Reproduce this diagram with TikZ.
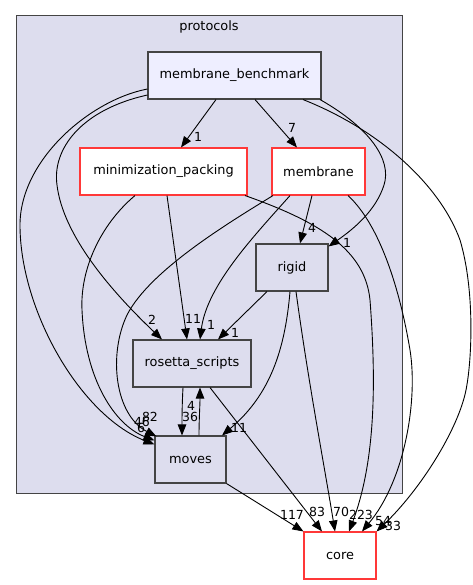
\documentclass[tikz,border=0pt]{standalone}
\usepackage{fontspec}
\setmainfont{DejaVu Sans}
\usetikzlibrary{arrows.meta}
\definecolor{clfill}{HTML}{DDDDEE}
\definecolor{mbfill}{HTML}{EEEEFF}
\definecolor{bord}{HTML}{444444}
\definecolor{redc}{HTML}{FF3838}
\begin{document}
\begin{tikzpicture}[x=1pt,y=-1pt,
  dirbox/.style={draw=bord, line width=1.1pt, fill=clfill, minimum height=47pt, inner sep=0pt, font=\fontsize{12.9}{15}\selectfont},
  redbox/.style={dirbox, draw=redc, fill=white},
  dep/.style={-{Triangle[length=11pt,width=8.5pt]}, line width=0.9pt, black},
  lbl/.style={font=\fontsize{12.5}{14}\selectfont, inner sep=0pt}]
\useasboundingbox (0,0) rectangle (472,585);
% cluster
\node[draw=bord, fill=clfill, line width=1pt, minimum width=386pt, minimum height=477pt, inner sep=0pt] (protocols) at (209,254.5) {};
\node[font=\fontsize{12.9}{15}\selectfont, inner sep=0pt] (protolbl) at (209,27) {protocols};
% nodes
\node[dirbox, fill=mbfill, minimum width=173pt] (mb) at (234.5,75.5) {membrane\_benchmark};
\node[redbox, minimum width=167pt] (mp) at (163.5,171.5) {minimization\_packing};
\node[redbox, minimum width=93pt] (mem) at (318.5,171.5) {membrane};
\node[dirbox, minimum width=72pt] (rigid) at (292,267.5) {rigid};
\node[dirbox, minimum width=118pt] (rs) at (192,363.5) {rosetta\_scripts};
\node[dirbox, minimum width=71pt] (moves) at (190.5,459.5) {moves};
\node[redbox, minimum width=72pt] (core) at (340,555.5) {core};
% edges
\draw[dep] ([xshift=-18.5pt]mb.south) -- ([xshift=17.5pt]mp.north);
\draw[dep] ([xshift=20.5pt]mb.south) -- ([xshift=-21.5pt]mem.north);
\draw[dep] ([xshift=85.5pt]mb.south) .. controls (370,128) and (392,160) .. (384,185) .. controls (376,210) and (355,228) .. ([yshift=-3pt]rigid.north east);
\draw[dep] ([xshift=68.5pt]mb.south) .. controls (380,130) and (440,185) .. (460,240) .. controls (475,290) and (472,360) .. (466,390) .. controls (458,430) and (420,490) .. (core.north east);
\draw[dep] ([yshift=-19.5pt]mb.west) .. controls (80,110) and (52,150) .. (57,185) .. controls (63,235) and (110,290) .. ([xshift=-30pt]rs.north);
\draw[dep] ([yshift=-13.5pt]mb.west) .. controls (90,100) and (20,160) .. (20,225) .. controls (20,310) and (80,415) .. ([yshift=-9pt]moves.north west);
\draw[dep] ([xshift=3.5pt]mp.south) -- ([xshift=-5pt]rs.north);
\draw[dep] ([xshift=-28.5pt]mp.south) .. controls (100,225) and (80,270) .. (82,310) .. controls (85,380) and (115,425) .. ([yshift=-5pt]moves.north west);
\draw[dep] ([xshift=81.5pt]mp.south) .. controls (320,222) and (365,250) .. (370,300) .. controls (376,380) and (376,460) .. ([xshift=9pt]core.north);
\draw[dep] ([xshift=-45.5pt]mem.south) .. controls (230,222) and (150,270) .. (127,315) .. controls (108,355) and (115,415) .. ([xshift=2pt,yshift=-1pt]moves.north west);
\draw[dep] ([xshift=-28.5pt]mem.south) .. controls (255,235) and (207,285) .. ([xshift=8pt]rs.north);
\draw[dep] ([xshift=-6.5pt]mem.south) -- ([xshift=8pt]rigid.north);
\draw[dep] ([xshift=29.5pt]mem.south) .. controls (380,225) and (400,290) .. (410,350) .. controls (418,400) and (405,480) .. ([xshift=22pt]core.north);
\draw[dep] ([xshift=-25pt]rigid.south) -- ([xshift=26pt]rs.north);
\draw[dep] ([xshift=-2pt]rigid.south) .. controls (285,350) and (270,395) .. ([xshift=31.5pt]moves.north);
\draw[dep] ([xshift=4pt]rigid.south) .. controls (308,380) and (325,470) .. ([xshift=-5pt]core.north);
\draw[dep] ([xshift=-9pt]rs.south) .. controls (182,405) and (182,420) .. ([xshift=-8.5pt]moves.north);
\draw[dep] ([xshift=8.5pt]moves.north) .. controls (199,420) and (200,405) .. ([xshift=8pt]rs.south);
\draw[dep] ([xshift=18pt]rs.south) -- ([xshift=-18pt]core.north);
\draw[dep] (moves.south east) -- (core.north west);
% labels
\node[lbl] (l1) at (198,137) {1};
\node[lbl] (l2) at (292,128) {7};
\node[lbl] (l3) at (312,228) {4};
\node[lbl] (l4) at (347,243) {1};
\node[lbl] (l5) at (152,320) {2};
\node[lbl] (l6) at (193,319) {11};
\node[lbl] (l7) at (211,325) {1};
\node[lbl] (l8) at (235,333) {1};
\node[lbl] (l9) at (191,406) {4};
\node[lbl] (l10) at (190,417) {36};
\node[lbl] (l11) at (150,417) {82};
\node[lbl] (l12) at (142,422) {46};
\node[lbl] (l13) at (141,428) {6};
\node[lbl] (l14) at (239,428) {11};
\node[lbl] (l15) at (292,515) {117};
\node[lbl] (l16) at (317,512) {83};
\node[lbl] (l17) at (341,512) {70};
\node[lbl] (l18) at (361,515) {223};
\node[lbl] (l19) at (383,521) {54};
\node[lbl] (l20) at (393,526) {33};
\end{tikzpicture}
\end{document}
